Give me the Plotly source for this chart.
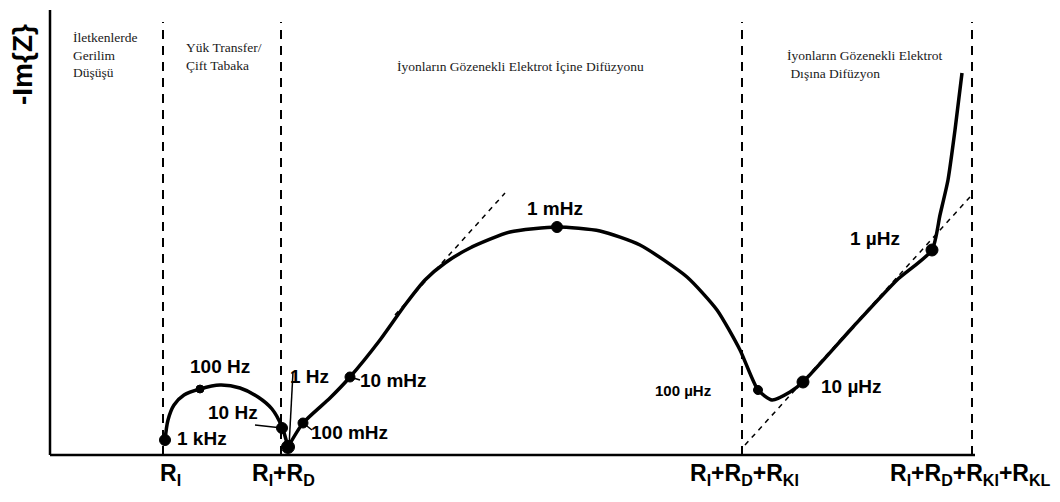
import plotly.graph_objects as go

# Schematic Nyquist plot of a porous electrode (arbitrary impedance units)
# Charge-transfer / double-layer semicircle
arc_re = [115, 118, 124, 134, 150, 170, 190, 208, 222, 232, 238]
arc_im = [15, 35, 50, 60, 66, 70, 67, 58, 46, 28, 8]

# Diffusion branch: Warburg line, inner-diffusion arc, outer-diffusion tail
tail_re = [238, 253, 280, 300, 330, 355, 375, 395, 420, 460, 507, 550, 590, 637,
           667, 690, 708, 722, 740, 753, 803, 847, 882, 890, 898, 905, 912]
tail_im = [8, 32, 57, 78, 115, 150, 175, 192, 207, 223, 228, 224, 210, 178,
           145, 105, 65, 55, 63, 73, 128, 175, 205, 240, 275, 325, 382]

# Marked frequencies
freq_labels = ["1 kHz", "100 Hz", "10 Hz", "1 Hz", "100 mHz", "10 mHz",
               "1 mHz", "100 µHz", "10 µHz", "1 µHz"]
freq_re = [115, 150, 232, 238, 253, 300, 507, 708, 753, 882]
freq_im = [15, 66, 27, 8, 32, 78, 228, 65, 73, 205]
freq_size = [11, 8, 11, 13, 10, 10, 11, 9, 12, 12]

# Characteristic resistances on the real axis
res_re = [113, 231, 692, 922]
res_labels = ["R<sub>I</sub>", "R<sub>I</sub>+R<sub>D</sub>",
              "R<sub>I</sub>+R<sub>D</sub>+R<sub>KI</sub>",
              "R<sub>I</sub>+R<sub>D</sub>+R<sub>KI</sub>+R<sub>KL</sub>"]
res_label_re = [120, 233, 694, 920]

# Asymptotes (45° diffusion lines)
warburg_re = [345, 455]
warburg_im = [140, 262]
outer_re = [695, 920]
outer_im = [10, 258]

# Region captions
region_text = ["İletkenlerde<br>Gerilim<br>Düşüşü",
               "Yük Transfer/<br>Çift Tabaka",
               "İyonların Gözenekli Elektrot İçine Difüzyonu",
               "İyonların Gözenekli Elektrot<br> Dışına Difüzyon"]
region_re = [21, 134, 470, 735]
region_im = [427, 417, 398, 409]

fig = go.Figure()

# region separators
for r in res_re:
    fig.add_trace(go.Scatter(x=[r, r], y=[0, 433], mode="lines",
                             line=dict(color="black", width=2, dash="9px,7px"),
                             hoverinfo="skip", showlegend=False))

# asymptotes
for xs, ys in [(warburg_re, warburg_im), (outer_re, outer_im)]:
    fig.add_trace(go.Scatter(x=xs, y=ys, mode="lines",
                             line=dict(color="black", width=1.5, dash="5px,5px"),
                             hoverinfo="skip", showlegend=False))

# impedance curve
fig.add_trace(go.Scatter(x=arc_re, y=arc_im, mode="lines",
                         line=dict(color="black", width=3.5, shape="spline", smoothing=0.8),
                         hoverinfo="skip", showlegend=False))
fig.add_trace(go.Scatter(x=tail_re, y=tail_im, mode="lines",
                         line=dict(color="black", width=3.5, shape="spline", smoothing=0.6),
                         hoverinfo="skip", showlegend=False))

# leader lines for crowded labels
leaders = [([205, 232], [30, 27]), ([243, 239], [83, 8]),
           ([253, 262], [32, 25]), ([300, 310], [78, 75])]
for xs, ys in leaders:
    fig.add_trace(go.Scatter(x=xs, y=ys, mode="lines",
                             line=dict(color="black", width=1.5),
                             hoverinfo="skip", showlegend=False))

fig.add_trace(go.Scatter(x=freq_re, y=freq_im, mode="markers",
                         marker=dict(color="black", size=freq_size, opacity=1,
                                     line=dict(color="black", width=1)),
                         hoverinfo="skip", showlegend=False))

# axes
fig.add_shape(type="line", x0=0, x1=0, y0=0, y1=445, xref="x", yref="y",
              line=dict(color="black", width=2.5))
fig.add_shape(type="line", x0=0, x1=925, y0=0, y1=0, xref="x", yref="y",
              line=dict(color="black", width=2.5))

label_font = dict(family="Liberation Sans, Arial", size=19, color="black")
label_pos = {
    "1 kHz": (125, 17, "left"),
    "100 Hz": (170, 89, "center"),
    "10 Hz": (183, 43, "center"),
    "1 Hz": (238, 79, "left"),
    "100 mHz": (259, 23, "left"),
    "10 mHz": (308, 75, "left"),
    "1 mHz": (505, 247, "center"),
    "100 µHz": (633, 65, "center"),
    "10 µHz": (769, 69, "left"),
    "1 µHz": (825, 217, "center"),
}
for lab in freq_labels:
    x, y, anc = label_pos[lab]
    f = dict(label_font)
    if lab == "100 µHz":
        f["size"] = 15
    fig.add_annotation(x=x, y=y, text="<b>%s</b>" % lab, showarrow=False,
                       xanchor=anc, yanchor="middle", font=f)

for x, lab in zip(res_label_re, res_labels):
    fig.add_annotation(x=x, y=-19, text="<b>%s</b>" % lab, showarrow=False,
                       xanchor="center", yanchor="middle",
                       font=dict(family="Liberation Sans, Arial", size=23, color="black"))

for i, (x, y, t) in enumerate(zip(region_re, region_im, region_text)):
    fig.add_annotation(x=x, y=y, text=t, showarrow=False,
                       xanchor="center" if i == 2 else "left", yanchor="top",
                       align="left",
                       font=dict(family="Liberation Serif, Times New Roman", size=13.5,
                                 color="#1a1a1a"))

fig.add_annotation(x=-28, y=390, text="<b>-Im{Z}</b>", textangle=-90, showarrow=False,
                   xanchor="center", yanchor="middle",
                   font=dict(family="Liberation Sans, Arial", size=28, color="black"))

fig.update_layout(
    width=1060, height=502,
    margin=dict(l=0, r=0, t=0, b=0),
    paper_bgcolor="white", plot_bgcolor="white",
    xaxis=dict(range=[-50, 1010], visible=False, fixedrange=True),
    yaxis=dict(range=[-47, 455], visible=False, fixedrange=True),
    showlegend=False,
)

fig.write_html("out.html")
